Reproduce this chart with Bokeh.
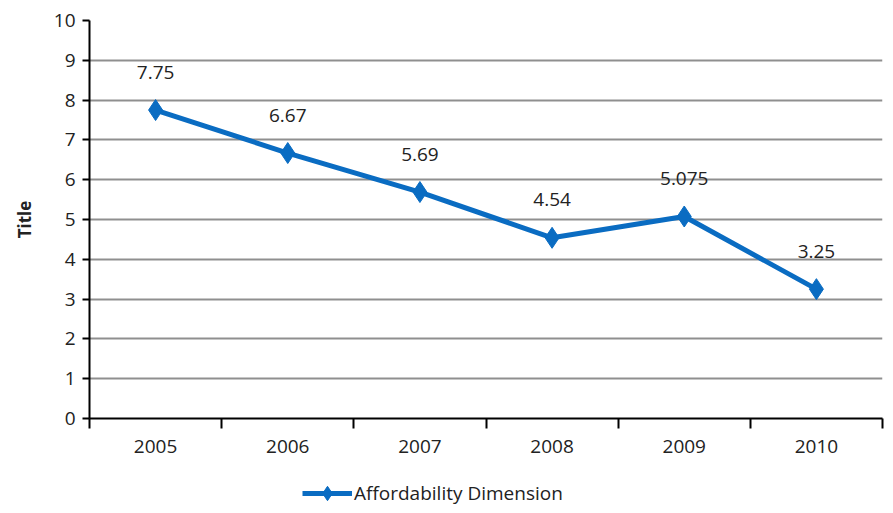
from bokeh.plotting import figure
from bokeh.layouts import column
from bokeh.models import (ColumnDataSource, LabelSet, FixedTicker, Legend, LegendItem,
                          Range1d)
from bokeh.core.properties import value
from bokeh.embed import file_html
from bokeh.resources import INLINE

# Series data
years = ["2005", "2006", "2007", "2008", "2009", "2010"]
affordability = [7.75, 6.67, 5.69, 4.54, 5.075, 3.25]
value_labels = ["7.75", "6.67", "5.69", "4.54", "5.075", "3.25"]
series_name = "Affordability Dimension"
y_ticks = [0, 1, 2, 3, 4, 5, 6, 7, 8, 9, 10]

# categories sit at the centre of unit-wide slots
xpos = [i + 0.5 for i in range(len(years))]
boundaries = list(range(len(years) + 1))

FONT = "Open Sans"
FS = "19px"
BLUE = "#0a6cc2"
GRID = "#8f8f8f"
TXT = "#222222"

src = ColumnDataSource(dict(x=xpos, y=affordability, lbl=value_labels))

p = figure(width=893, height=468, output_backend="svg", toolbar_location=None,
           x_range=Range1d(0, len(years)), y_range=Range1d(0, 10),
           min_border_left=89, min_border_right=11, min_border_top=20,
           min_border_bottom=50)
p.outline_line_color = None
p.background_fill_color = "white"
p.border_fill_color = "white"

# horizontal gridlines only
p.xgrid.grid_line_color = None
p.ygrid.grid_line_color = GRID
p.ygrid.grid_line_width = 2
p.ygrid.ticker = FixedTicker(ticks=y_ticks)

# y axis
p.yaxis.ticker = FixedTicker(ticks=y_ticks)
p.yaxis.axis_line_color = "black"
p.yaxis.axis_line_width = 2
p.yaxis.major_tick_line_color = "black"
p.yaxis.major_tick_line_width = 2
p.yaxis.major_tick_in = 0
p.yaxis.major_tick_out = 7
p.yaxis.minor_tick_line_color = None
p.yaxis.major_label_standoff = 7
p.yaxis.major_label_text_font = FONT
p.yaxis.major_label_text_font_size = FS
p.yaxis.major_label_text_color = TXT
p.yaxis.axis_label = "Title"
p.yaxis.axis_label_text_font = FONT
p.yaxis.axis_label_text_font_size = "17px"
p.yaxis.axis_label_text_font_style = "bold"
p.yaxis.axis_label_text_color = TXT
p.yaxis.axis_label_standoff = 15

# x axis: labels at slot centres, tick marks on slot boundaries
p.xaxis.ticker = FixedTicker(ticks=xpos, minor_ticks=boundaries)
p.xaxis.major_label_overrides = {x: y for x, y in zip(xpos, years)}
p.xaxis.axis_line_color = "black"
p.xaxis.axis_line_width = 2
p.xaxis.major_tick_line_color = None
p.xaxis.major_tick_in = 0
p.xaxis.major_tick_out = 10
p.xaxis.minor_tick_line_color = "black"
p.xaxis.minor_tick_line_width = 2
p.xaxis.minor_tick_in = 0
p.xaxis.minor_tick_out = 10
p.xaxis.major_label_standoff = 11
p.xaxis.major_label_text_font = FONT
p.xaxis.major_label_text_font_size = FS
p.xaxis.major_label_text_color = TXT

# series
p.line("x", "y", source=src, line_color=BLUE, line_width=5)
p.scatter("x", "y", source=src, marker="diamond", size=21,
          fill_color=BLUE, line_color=BLUE)

# value labels above each point
labels = LabelSet(x="x", y="y", text="lbl", source=src, y_offset=38,
                  text_align="center", text_baseline="middle",
                  text_font=value(FONT), text_font_size=FS, text_color=TXT)
p.add_layout(labels)

# legend strip under the chart; the key renderers reuse the series data,
# which lies outside this strip's ranges so only the legend key shows
lg = figure(width=893, height=45, output_backend="svg", toolbar_location=None,
            x_range=Range1d(-100, -99), y_range=Range1d(-100, -99),
            min_border_left=0, min_border_right=0, min_border_top=0,
            min_border_bottom=0)
lg.axis.visible = False
lg.grid.visible = False
lg.outline_line_color = None
key_line = lg.line("x", "y", source=src, line_color=BLUE, line_width=5)
key_pts = lg.scatter("x", "y", source=src, marker="diamond", size=21,
                     fill_color=BLUE, line_color=BLUE)
legend = Legend(items=[LegendItem(label=series_name, renderers=[key_line, key_pts])],
                location=(213, 2), orientation="horizontal",
                label_text_font=FONT, label_text_font_size=FS,
                label_text_color=TXT, glyph_width=50, glyph_height=36,
                label_standoff=2, padding=2, margin=0,
                border_line_color=None, background_fill_alpha=0)
lg.add_layout(legend)

open("out.html", "w").write(file_html(column(p, lg, spacing=0), INLINE))
